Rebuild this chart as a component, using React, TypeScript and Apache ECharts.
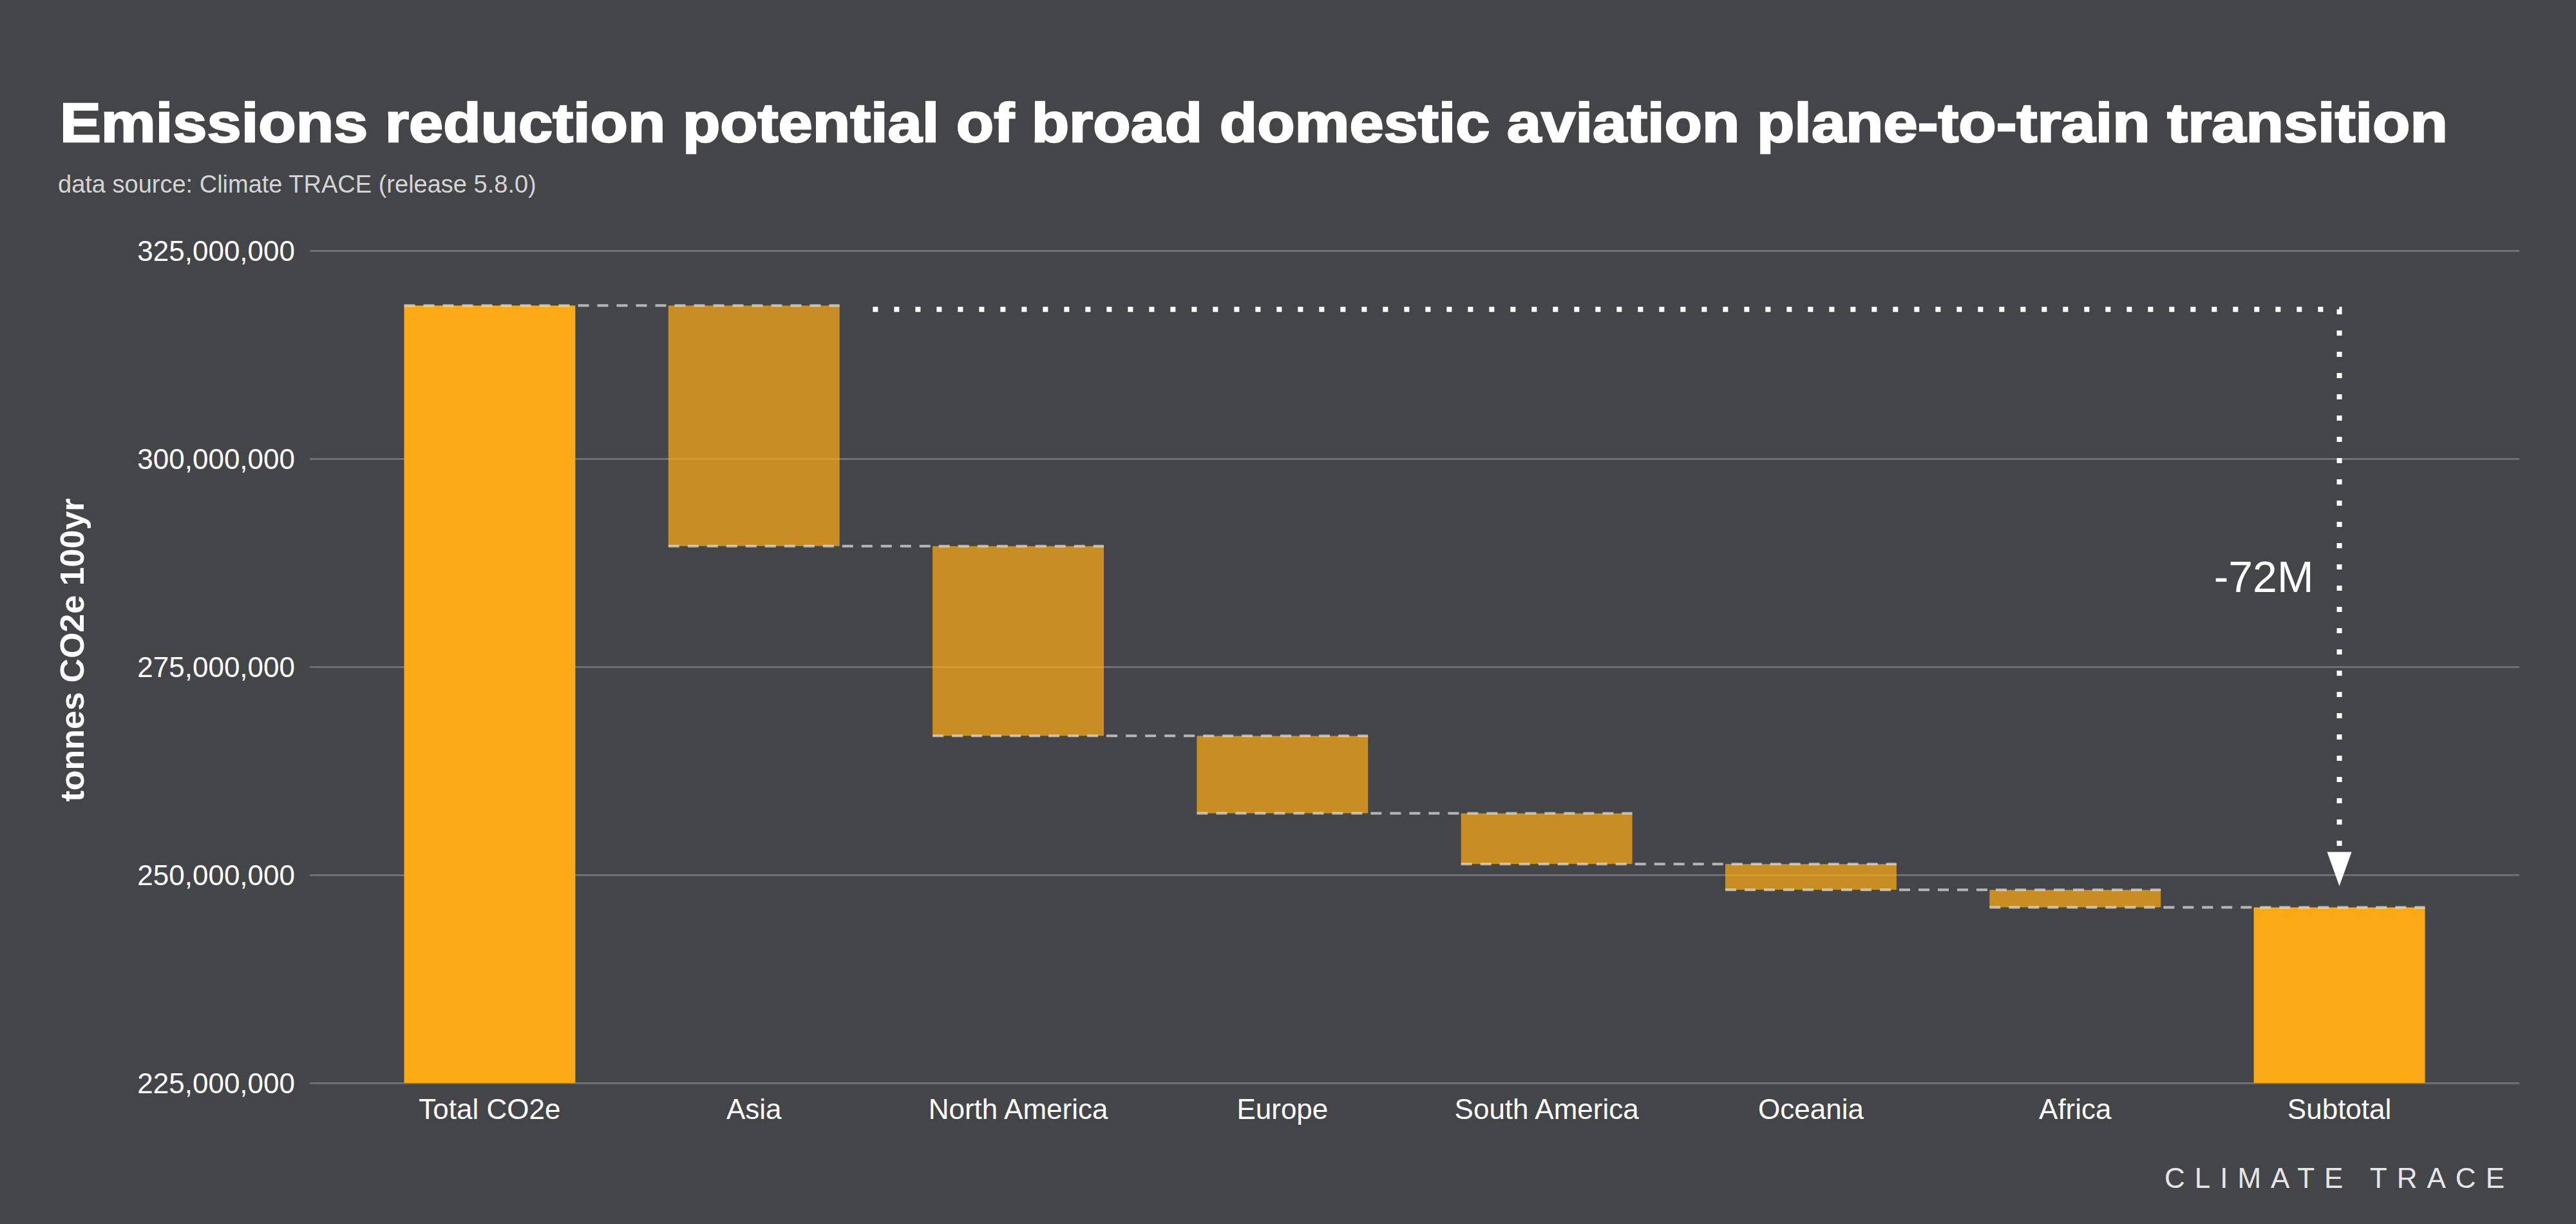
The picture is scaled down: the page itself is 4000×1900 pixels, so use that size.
import React, { useEffect, useRef } from "react";
import * as echarts from "echarts";

// ---------- data ----------
const categories = [
  "Total CO2e",
  "Asia",
  "North America",
  "Europe",
  "South America",
  "Oceania",
  "Africa",
  "Subtotal",
];
const startTotal = 318400000;
const regionChanges = [-28900000, -22800000, -9300000, -6100000, -3100000, -2100000];
const yMin = 225000000;
const yMax = 325000000;
const yStep = 25000000;
const annotationLabel = "-72M";

const TITLE = "Emissions reduction potential of broad domestic aviation plane-to-train transition";
const SUBTITLE = "data source: Climate TRACE (release 5.8.0)";
const Y_NAME = "tonnes CO2e 100yr";
const LOGO = "CLIMATE TRACE";

// ---------- style ----------
const BG = "#444548";
const ORANGE = "#FBAA16";
const FONT = '"Liberation Sans", Arial, Helvetica, sans-serif';
const W = 4000;
const H = 1900;
const PLOT_L = 481;
const PLOT_R = 3912;
const PLOT_T = 389;
const PLOT_B = 1681;
const PAD_BANDS = 0.181;
const BAR_FRAC = 0.648;

function buildWaterfall() {
  const bars: number[][] = []; // [index, low, high, kind(0 total,1 decrease)]
  const levels: number[] = [];
  const base = Math.max(0, yMin);
  let level = startTotal;
  bars.push([0, base, startTotal, 0]);
  levels.push(level);
  regionChanges.forEach((d, i) => {
    const next = level + d;
    bars.push([i + 1, Math.min(level, next), Math.max(level, next), 1]);
    level = next;
    levels.push(level);
  });
  bars.push([categories.length - 1, base, level, 0]);
  return { bars, levels, subtotal: level };
}

function measure(text: string, font: string) {
  const c = document.createElement("canvas").getContext("2d");
  if (!c) return 0;
  c.font = font;
  return c.measureText(text).width;
}

export default function App() {
  const ref = useRef<HTMLDivElement>(null);

  useEffect(() => {
    if (!ref.current) return;
    const chart = echarts.init(ref.current, undefined, { renderer: "svg", width: W, height: H });
    const { bars, levels, subtotal } = buildWaterfall();

    const plotW = PLOT_R - PLOT_L;
    const band = plotW / (categories.length + 2 * PAD_BANDS);
    const barGridL = PLOT_L + PAD_BANDS * band;
    const barGridR = PLOT_R - PAD_BANDS * band;

    const titleFont = `bold 85px ${FONT}`;
    const tw = measure(TITLE, titleFont) || 3708;
    const titleScale = 3708 / tw;

    const connectorData = levels.slice(0, levels.length).map((lv, i) => [i, lv]).slice(0, categories.length - 1);

    const option: any = {
      animation: false,
      backgroundColor: BG,
      textStyle: { fontFamily: FONT },
      grid: [
        { left: PLOT_L, right: W - PLOT_R, top: PLOT_T, bottom: H - PLOT_B },
        { left: barGridL, right: W - barGridR, top: PLOT_T, bottom: H - PLOT_B },
      ],
      xAxis: [
        { type: "value", gridIndex: 0, min: 0, max: 1, show: false },
        {
          type: "category",
          gridIndex: 1,
          data: categories,
          axisLine: { show: false },
          axisTick: { show: false },
          axisLabel: { color: "#ffffff", fontSize: 44, fontFamily: FONT, margin: 18, interval: 0 },
        },
      ],
      yAxis: [
        {
          type: "value",
          gridIndex: 0,
          min: yMin,
          max: yMax,
          interval: yStep,
          axisLine: { show: false },
          axisTick: { show: false },
          axisLabel: {
            color: "#ffffff",
            fontSize: 44,
            fontFamily: FONT,
            margin: 23,
            formatter: (v: number) => v.toLocaleString("en-US"),
          },
          splitLine: { lineStyle: { color: "#6e6f72", width: 3 } },
        },
        { type: "value", gridIndex: 1, min: yMin, max: yMax, interval: yStep, show: false, splitLine: { show: false } },
      ],
      series: [
        {
          type: "custom",
          name: "bars",
          xAxisIndex: 1,
          yAxisIndex: 1,
          z: 2,
          encode: { x: 0, y: [1, 2] },
          data: bars,
          renderItem: (_p: any, api: any) => {
            const idx = api.value(0);
            const lo = api.value(1);
            const hi = api.value(2);
            const kind = api.value(3);
            const top = api.coord([idx, hi]);
            const bot = api.coord([idx, lo]);
            const bw = api.size([1, 0])[0] * BAR_FRAC;
            return {
              type: "rect",
              shape: { x: top[0] - bw / 2, y: top[1], width: bw, height: bot[1] - top[1] },
              style: { fill: ORANGE, opacity: kind === 1 ? 0.72 : 1 },
            };
          },
        },
        {
          type: "custom",
          name: "connectors",
          xAxisIndex: 1,
          yAxisIndex: 1,
          z: 3,
          encode: { x: 0, y: 1 },
          data: connectorData,
          renderItem: (_p: any, api: any) => {
            const idx = api.value(0);
            const lv = api.value(1);
            const a = api.coord([idx, lv]);
            const b = api.coord([idx + 1, lv]);
            const bw = api.size([1, 0])[0] * BAR_FRAC;
            return {
              type: "line",
              shape: { x1: a[0] - bw / 2, y1: a[1], x2: b[0] + bw / 2, y2: b[1] },
              style: { stroke: "rgba(225,225,225,0.72)", lineWidth: 4, lineDash: [17, 13] },
            };
          },
        },
        {
          type: "custom",
          name: "annotation",
          xAxisIndex: 1,
          yAxisIndex: 1,
          z: 4,
          encode: { x: [0, 2], y: [1, 3] },
          data: [[1, startTotal, categories.length - 1, subtotal]],
          renderItem: (_p: any, api: any) => {
            const bandW = api.size([1, 0])[0];
            const fromX = api.coord([api.value(0), api.value(1)])[0] + bandW * 0.45;
            const topY = api.coord([api.value(2), api.value(1)])[1] + 6;
            const end = api.coord([api.value(2), api.value(3)]);
            const tipY = end[1] - 33;
            const arrowTop = tipY - 53;
            const x = end[0];
            return {
              type: "group",
              children: [
                {
                  type: "polyline",
                  shape: { points: [[fromX, topY], [x, topY], [x, arrowTop]] },
                  style: { stroke: "#ffffff", lineWidth: 8, lineDash: [8, 25], fill: null },
                },
                {
                  type: "polygon",
                  shape: { points: [[x - 19, arrowTop], [x + 19, arrowTop], [x, tipY]] },
                  style: { fill: "#ffffff" },
                },
                {
                  type: "text",
                  x: x - 40,
                  y: (topY + tipY) / 2 - 33,
                  style: {
                    text: annotationLabel,
                    fill: "#ffffff",
                    fontSize: 68,
                    fontFamily: FONT,
                    align: "right",
                    verticalAlign: "middle",
                  },
                },
              ],
            };
          },
        },
      ],
      graphic: [
        {
          type: "text",
          x: 93,
          y: 190.5,
          scaleX: titleScale,
          style: {
            text: TITLE,
            fill: "#ffffff",
            stroke: "#ffffff",
            lineWidth: 2.5,
            fontSize: 85,
            fontWeight: "bold",
            fontFamily: FONT,
            align: "left",
            textAlign: "left",
            verticalAlign: "middle",
            textVerticalAlign: "middle",
          },
        },
        {
          type: "text",
          x: 90,
          y: 285.5,
          style: {
            text: SUBTITLE,
            fill: "#d4d4d4",
            fontSize: 38,
            fontFamily: FONT,
            align: "left",
            textAlign: "left",
            verticalAlign: "middle",
            textVerticalAlign: "middle",
          },
        },
        {
          type: "text",
          x: 112,
          y: 1009,
          rotation: Math.PI / 2,
          style: {
            text: Y_NAME,
            fill: "#ffffff",
            fontSize: 52,
            fontWeight: "bold",
            fontFamily: FONT,
            align: "center",
            textAlign: "center",
            verticalAlign: "middle",
            textVerticalAlign: "middle",
          },
        },
        {
          type: "text",
          x: 3361,
          y: 1828,
          style: {
            text: LOGO,
            fill: "#e6e6e6",
            fontSize: 44,
            fontFamily: FONT,
            align: "left",
            textAlign: "left",
            verticalAlign: "middle",
            textVerticalAlign: "middle",
          },
        },
      ],
    };

    chart.setOption(option);

    // widen the logo's letter spacing
    try {
      const texts = ref.current.querySelectorAll("text");
      texts.forEach((t) => {
        if (t.textContent === LOGO) t.setAttribute("letter-spacing", "15");
      });
    } catch (e) {
      /* ignore */
    }

    return () => chart.dispose();
  }, []);

  return (
    <div
      ref={ref}
      style={{ position: "absolute", left: 0, top: 0, width: W, height: H, background: BG }}
    />
  );
}
